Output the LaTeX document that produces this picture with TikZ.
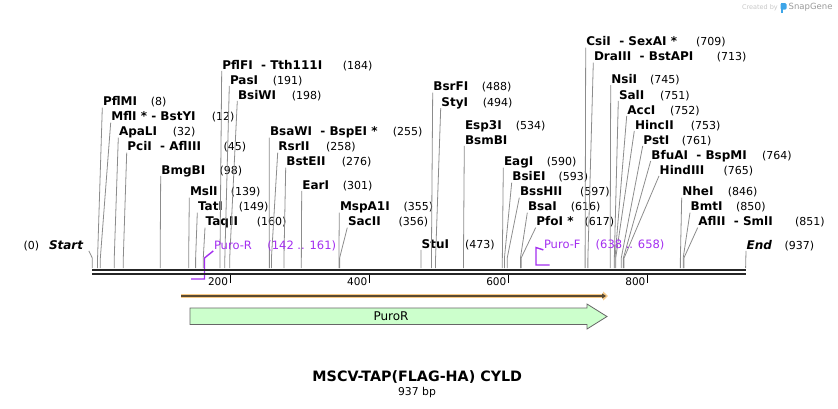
\documentclass[tikz,border=0pt]{standalone}
\usepackage{fontspec}
\setmainfont{DejaVu Sans}
\usepackage{tikz}
\usetikzlibrary{arrows.meta}
\definecolor{primer}{HTML}{A32EEF}
\definecolor{leadgray}{HTML}{8C8C8C}
\definecolor{bbone}{HTML}{262626}
\definecolor{featgreen}{HTML}{CCFFCC}
\definecolor{orfband}{HTML}{F7C986}
\definecolor{orfline}{HTML}{5A4A32}
\definecolor{sgblue}{HTML}{3DA5E8}

\begin{document}
\begin{tikzpicture}[x=1pt, y=-1pt,
  enz/.style={font=\fontsize{12}{12}\selectfont\bfseries, anchor=base west, inner sep=0.5pt, text depth=1pt},
  sitenum/.style={font=\fontsize{11}{11}\selectfont, anchor=base west, inner sep=0pt},
  lead/.style={draw=leadgray, line width=0.8pt},
  prim/.style={font=\fontsize{11.5}{11.5}\selectfont, text=primer, anchor=base west, inner sep=0.5pt, text depth=1pt},
  primline/.style={draw=primer, line width=1.4pt},
  bb/.style={draw=bbone, line width=2.3pt},
  tickmark/.style={draw=black, line width=1.6pt},
  ticklab/.style={font=\fontsize{10.5}{10.5}\selectfont, anchor=east, inner sep=0pt}]
  \useasboundingbox (0,0) rectangle (838,408);

  \foreach [count=\i] \nm/\bp/\lx/\ly/\nx in {
    PflMI/8/102.3/101.7/150.7,
    MflI~*~-~BstYI/12/110.7/116.7/211.7,
    ApaLI/32/118.3/131.7/172.7,
    PciI~~-~AflIII/45/126.7/146.7/223.3,
    BmgBI/98/160.7/170/219.3,
    MslI/139/189.3/191.7/230.7,
    TatI/149/197.3/206.7/238.7,
    TaqII/160/205/221.7/256.7,
    PflFI~~-~Tth111I/184/221.7/65/342.7,
    PasI/191/229.3/80/272.7,
    BsiWI/198/237.3/95/291.7,
    BsaWI~~-~BspEI~*/255/269.3/131.7/392.7,
    RsrII/258/277.7/146.7/326,
    BstEII/276/285.7/161.7/341.7,
    EarI/301/301.7/185/342.7,
    MspA1I/355/339.3/206.7/403.3,
    SacII/356/347.3/221.7/398.3,
    StuI/473/421/244/465,
    BsrFI/488/432.7/86.7/481.7,
    StyI/494/440.7/102.3/482.7,
    EagI/590/503.3/161.7/546.7,
    BsiEI/593/511.7/176.7/558.3,
    BssHII/597/519.3/191.7/580,
    BsaI/616/527.3/206.7/570.7,
    PfoI~*/617/535.7/221.7/584.3,
    CsiI~~-~SexAI~*/709/585.7/41.7/696,
    DraIII~~-~BstAPI/713/593.3/56.7/716.7,
    NsiI/745/610.7/79.3/650,
    SalI/751/618.3/95/660,
    AccI/752/626.7/110/670,
    HincII/753/634.3/125/690.7,
    PstI/761/642.7/140/681.7,
    BfuAI~~-~BspMI/764/650.7/155/762,
    HindIII/765/659/170/723.3,
    NheI/846/681.7/191.7/727.7,
    BmtI/850/690/206.7/736,
    AflII~~-~SmlI/851/697.7/221.7/795} {
    \node[enz] (e\i) at (\lx,{\ly+4.2}) {\nm};
    \node[sitenum] (n\i) at (\nx,{\ly+4.2}) {(\bp)};
    \coordinate (k\i) at ({92+0.6955*\bp},258);
    \coordinate (c\i) at ({92+0.6955*\bp},268);
    \draw[lead] (e\i.south west) -- (k\i) -- (c\i);
  }

  \node[enz] (esp) at (464.3,129.2) {Esp3I};
  \node[sitenum] (nesp) at (515.7,129.2) {(534)};
  \node[enz] (bsm) at (464.3,144.2) {BsmBI};
  \coordinate (kesp) at ({92+0.6955*534},268);
  \draw[lead] (bsm.south west) -- (kesp);

  \node[sitenum] (n0) at (23.3,249.2) {(0)};
  \node[enz, font=\fontsize{12}{12}\selectfont\bfseries\itshape] (st) at (48.3,249.2) {Start};
  \coordinate (kst) at (92.3,258);
  \coordinate (cst) at (92.3,268);
  \draw[lead] ([xshift=5pt]st.south east) -- (kst) -- (cst);
  \node[enz, font=\fontsize{12}{12}\selectfont\bfseries\itshape] (en) at (746,249.2) {End};
  \node[sitenum] (nen) at (784.3,249.2) {(937)};
  \coordinate (cen) at (745.6,268);
  \draw[lead] (en.south west) -- (cen);

  \node[prim] (pr) at (213.3,249.2) {Puro-R};
  \node[prim] (npr) at (266.7,249.2) {(142 .. 161)};
  \coordinate (pr1) at (204.5,258);
  \coordinate (pr2) at (204.5,279);
  \coordinate (pr3) at (191,279);
  \draw[primline] (pr.south west) -- (pr1) -- (pr2) -- (pr3);
  \node[prim] (pf) at (543.3,248.2) {Puro-F};
  \node[prim] (npf) at (595,248.2) {(638 .. 658)};
  \coordinate (pf1) at (536,247.5);
  \coordinate (pf2) at (536,265);
  \coordinate (pf3) at (549.5,265);
  \draw[primline] (pf.south west) -- (pf1) -- (pf2) -- (pf3);

  \draw[bb] (92,270) -- (746,270);
  \draw[bb] (92,274.3) -- (746,274.3);
  \foreach \t in {200,400,600,800} {
    \draw[tickmark] ({91.2+0.6955*\t},275) -- ({91.2+0.6955*\t},282.5);
    \node[ticklab] (t\t) at ({89.2+0.6955*\t},282) {\t};
  }

  \coordinate (o1) at (181,296);
  \coordinate (o2) at (608,296);
  \draw[orfband, line width=4pt, -{Triangle[length=5pt,width=9pt]}] (o1) -- (o2);
  \draw[orfline, line width=1.4pt, -{Triangle[length=4pt,width=5pt]}] (o1) -- ([xshift=-2pt]o2);

  \draw[draw=black!60, fill=featgreen, line width=0.8pt]
    (190,308) -- (587,308) -- (587,304) -- (607,316.5) -- (587,329) -- (587,324.5) -- (190,324.5) -- cycle;
  \node[font=\fontsize{12}{12}\selectfont] (puro) at (391,316.5) {PuroR};

  \node[font=\fontsize{14.3}{14.3}\selectfont\bfseries] (title) at (417.3,377.3) {MSCV-TAP(FLAG-HA) CYLD};
  \node[font=\fontsize{10.8}{10.8}\selectfont] (len) at (417,392.7) {937 bp};

  \node[font=\fontsize{6.5}{6.5}\selectfont, text=black!22, anchor=east, inner sep=0pt] (cb) at (778,7.5) {Created by};
  \fill[sgblue, rounded corners=1.2pt] (780.5,3.2) rectangle (786.5,9.5);
  \fill[sgblue] (780.5,3.2) rectangle (782.8,12.5);
  \node[font=\fontsize{8.5}{8.5}\selectfont, text=black!40, anchor=west, inner sep=0pt] (sg) at (788.5,7.5) {SnapGene};
\end{tikzpicture}
\end{document}
